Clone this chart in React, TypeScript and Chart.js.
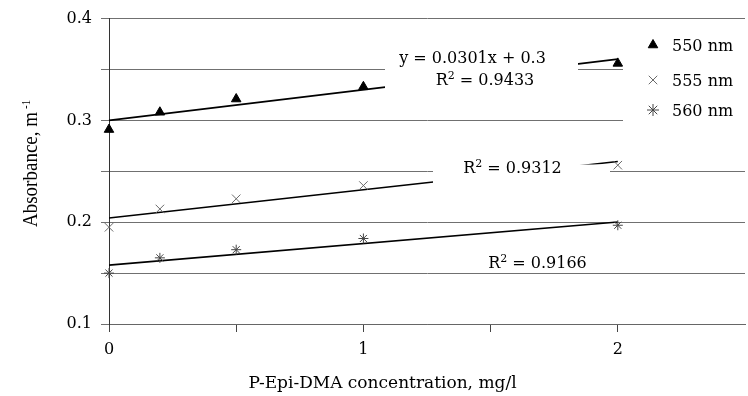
import React, { useEffect, useRef } from 'react';
import { Chart, registerables } from 'chart.js';

Chart.register(...registerables);

// ---- data ----
const concentrations = [0, 0.2, 0.5, 1, 2];
const abs550 = [0.291, 0.308, 0.321, 0.333, 0.356];
const abs555 = [0.195, 0.213, 0.223, 0.236, 0.256];
const abs560 = [0.150, 0.165, 0.173, 0.184, 0.197];
const seriesLabels = ['550 nm', '555 nm', '560 nm'];
const trendSlopes = [0.0301, 0.0277, 0.0212];
const trendIntercepts = [0.3, 0.2042, 0.1578];
const trendRange = [0, 2];
const r2Values = ['0.9433', '0.9312', '0.9166'];
const equationText = 'y = 0.0301x + 0.3';
const xTitle = 'P-Epi-DMA concentration, mg/l';
const yTitle = 'Absorbance, m';
const yTitleSup = '-1';

const FONT = '"DejaVu Serif"';

function drawMarker(ctx: CanvasRenderingContext2D, style: string, x: number, y: number, r: number, color: string) {
  ctx.save();
  ctx.strokeStyle = color;
  ctx.fillStyle = color;
  ctx.lineWidth = 1;
  ctx.beginPath();
  if (style === 'triangle') {
    ctx.moveTo(x, y - r);
    ctx.lineTo(x + r * 0.866, y + r / 2);
    ctx.lineTo(x - r * 0.866, y + r / 2);
    ctx.closePath();
    ctx.fill();
    ctx.stroke();
  } else {
    const d = r * 0.707;
    ctx.moveTo(x - d, y - d);
    ctx.lineTo(x + d, y + d);
    ctx.moveTo(x + d, y - d);
    ctx.lineTo(x - d, y + d);
    if (style === 'star') {
      ctx.moveTo(x, y - r);
      ctx.lineTo(x, y + r);
      ctx.moveTo(x - r, y);
      ctx.lineTo(x + r, y);
    }
    ctx.stroke();
  }
  ctx.restore();
}

function drawR2(ctx: CanvasRenderingContext2D, cx: number, baseline: number, value: string) {
  const main = `16px ${FONT}`;
  const sup = `11px ${FONT}`;
  ctx.font = main;
  const wR = ctx.measureText('R').width;
  const rest = ' = ' + value;
  const wRest = ctx.measureText(rest).width;
  ctx.font = sup;
  const w2 = ctx.measureText('2').width;
  let x = cx - (wR + w2 + wRest) / 2;
  ctx.textAlign = 'left';
  ctx.textBaseline = 'alphabetic';
  ctx.font = main;
  ctx.fillText('R', x, baseline);
  x += wR;
  ctx.font = sup;
  ctx.fillText('2', x, baseline - 6);
  x += w2;
  ctx.font = main;
  ctx.fillText(rest, x, baseline);
}

export default function App() {
  const ref = useRef<HTMLCanvasElement>(null);

  useEffect(() => {
    const canvas = ref.current;
    if (!canvas) return;
    const series = [abs550, abs555, abs560];
    const markerStyles = ['triangle', 'crossRot', 'star'];
    const markerColors = ['#000000', '#6a6a6a', '#454545'];
    const markerRadius = [5.5, 6, 5];

    const toPts = (ys: number[]) => concentrations.map((x, i) => ({ x, y: ys[i] }));
    const trend = (i: number) => trendRange.map((x) => ({ x, y: trendIntercepts[i] + trendSlopes[i] * x }));

    const datasets: any[] = [
      ...series.map((s, i) => ({
        label: seriesLabels[i],
        data: toPts(s),
        showLine: false,
        clip: false,
        pointStyle: markerStyles[i],
        pointRadius: markerRadius[i],
        pointBackgroundColor: markerColors[i],
        pointBorderColor: markerColors[i],
        pointBorderWidth: 1,
        order: 0,
      })),
      ...series.map((_, i) => ({
        label: 'trend ' + seriesLabels[i],
        data: trend(i),
        showLine: true,
        clip: false,
        borderColor: '#000000',
        borderWidth: 1.6,
        pointRadius: 0,
        order: 1,
      })),
    ];

    const overlay = {
      id: 'overlay',
      afterDatasetsDraw(chart: any) {
        const c: CanvasRenderingContext2D = chart.ctx;
        c.save();
        // label backgrounds (white fill like the source)
        c.fillStyle = '#ffffff';
        c.fillRect(385, 42, 193, 55);
        c.fillRect(433, 164.5, 177, 26);
        c.fillRect(623, 28, 135, 100);
        c.fillStyle = '#000000';
        // equation + R² labels
        c.font = `16px ${FONT}`;
        c.textAlign = 'center';
        c.textBaseline = 'alphabetic';
        c.fillText(equationText, 472.5, 63);
        drawR2(c, 485, 85, r2Values[0]);
        drawR2(c, 512.5, 173, r2Values[1]);
        drawR2(c, 537.5, 268, r2Values[2]);
        // legend
        const rows = [45, 80, 110];
        rows.forEach((yy, i) => {
          drawMarker(c, markerStyles[i], 653, yy, i === 0 ? 5.5 : 6, markerColors[i]);
          c.fillStyle = '#000000';
          c.font = `16px ${FONT}`;
          c.textAlign = 'left';
          c.textBaseline = 'alphabetic';
          c.fillText(seriesLabels[i], 672, yy + 5.5);
        });
        // x title
        c.font = `17px ${FONT}`;
        c.textAlign = 'center';
        c.fillText(xTitle, 382.5, 388);
        // y title (rotated)
        c.translate(36.5, 227);
        c.rotate(-Math.PI / 2);
        c.scale(1, 1.15);
        c.font = '19px "Liberation Serif"';
        c.textAlign = 'left';
        c.fillText(yTitle, 0, 0);
        const w = c.measureText(yTitle).width;
        c.font = '11px "Liberation Serif"';
        c.fillText(yTitleSup, w + 3, -5.5);
        c.restore();
      },
    };

    const chart = new Chart(canvas, {
      type: 'scatter',
      data: { datasets },
      options: {
        responsive: false,
        animation: false,
        layout: { padding: { left: 0, right: 0, top: 11, bottom: 0 } },
        plugins: {
          legend: { display: false },
          tooltip: { enabled: false },
        },
        scales: {
          x: {
            type: 'linear',
            min: 0,
            max: 2.5,
            border: { display: true, color: '#666666', width: 1 },
            grid: { drawOnChartArea: false, drawTicks: true, tickLength: 8, color: '#444444' },
            ticks: {
              stepSize: 0.5,
              padding: 8,
              color: '#000000',
              autoSkip: false,
              maxRotation: 0,
              font: { family: 'DejaVu Serif', size: 16 },
              callback: (v: any) => (Number.isInteger(Number(v)) ? String(v) : ''),
            },
            afterBuildTicks: (axis: any) => {
              axis.ticks = axis.ticks.filter((t: any) => t.value <= 2.001);
            },
            afterFit: (s: any) => {
              s.height = 72;
            },
          },
          y: {
            type: 'linear',
            min: 0.1,
            max: 0.4,
            border: { display: true, color: '#333333', width: 1 },
            grid: { drawOnChartArea: true, drawTicks: true, tickLength: 8, color: '#707070' },
            ticks: {
              stepSize: 0.05,
              padding: 9,
              color: '#000000',
              autoSkip: false,
              font: { family: 'DejaVu Serif', size: 16 },
              callback: (v: any) => {
                const n = Number(v) * 10;
                return Math.abs(n - Math.round(n)) < 1e-6 ? Number(v).toFixed(1) : '';
              },
            },
            afterFit: (s: any) => {
              s.width = 109;
            },
          },
        },
      } as any,
      plugins: [overlay],
    });
    return () => chart.destroy();
  }, []);

  return (
    <div style={{ position: 'fixed', left: 0, top: 0, width: 748, height: 396, overflow: 'hidden', background: '#ffffff' }}>
      <canvas ref={ref} width={752} height={396} style={{ display: 'block' }} />
    </div>
  );
}
